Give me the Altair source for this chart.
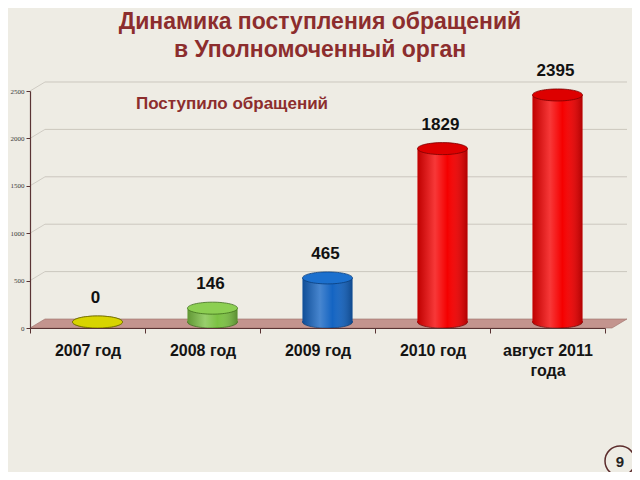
import altair as alt
import pandas as pd

# ---- data ----
categories = ["2007 год", "2008 год", "2009 год", "2010 год", "август 2011\nгода"]
values = [0, 146, 465, 1829, 2395]
body_colors = ["#C9C400", "#7CC243", "#1464C2", "#F50000", "#F50000"]
top_colors = ["#D8D400", "#8CCF52", "#1C70CE", "#DD0000", "#DD0000"]
edge_colors = ["#6E6A00", "#3F6E1C", "#0B3D7A", "#7A0000", "#7A0000"]
y_ticks = [0, 500, 1000, 1500, 2000, 2500]
grid_values = [500, 1000, 1500, 2000, 2500]
title_line1 = ["Динамика поступления обращений"]
title_line2 = ["в Уполномоченный орган"]
series_label = ["Поступило обращений"]
page_number = ["9"]

df = pd.DataFrame({"category": categories, "value": values,
                   "body": body_colors, "top": top_colors, "edge": edge_colors})
grid_df = pd.DataFrame({"value": grid_values})

BG = "#EEECE4"
DARK = "#5A3434"
TITLE_RED = "#8C2D2D"
FONT = "Liberation Sans"

x_axis = alt.Axis(title=None, labelAngle=0, labelFont=FONT, labelFontSize=16,
                  labelFontWeight="bold", labelColor="#141414", labelPadding=9,
                  labelLineHeight=20, labelExpr="split(datum.label, '\\n')",
                  domainColor=DARK, domainWidth=1.2, tickColor=DARK, tickSize=5,
                  tickBand="extent", zindex=1)
x_enc = alt.X("category:N", sort=categories,
              scale=alt.Scale(domain=categories, paddingInner=0, paddingOuter=0),
              axis=x_axis)
y_scale = alt.Scale(domain=[0, 2500], nice=False, zero=True)
y_axis = alt.Axis(title=None, values=y_ticks, format="d", labelFont="Liberation Serif",
                  labelFontSize=7, labelColor="#3a3a3a", labelPadding=2,
                  tickSize=4, tickColor=DARK, domainColor=DARK, domainWidth=1.2,
                  grid=False, zindex=1)
y_enc = alt.Y("value:Q", scale=y_scale, axis=y_axis)
y_zero = alt.YDatum(0, scale=y_scale, axis=y_axis, type="quantitative")

ELL = "M -1 0 A 1 0.24 0 1 0 1 0 A 1 0.24 0 1 0 -1 0 Z"
FLOOR = "M -1 0.0151 L 0.9497 0.0151 L 1 -0.0151 L -0.9497 -0.0151 Z"

shade = alt.Gradient(
    gradient="linear", x1=0, x2=1, y1=0, y2=0,
    stops=[alt.GradientStop(color="rgba(0,0,0,0.22)", offset=0),
           alt.GradientStop(color="rgba(255,255,255,0.22)", offset=0.35),
           alt.GradientStop(color="rgba(255,255,255,0.0)", offset=0.6),
           alt.GradientStop(color="rgba(0,0,0,0.28)", offset=1)])

base = alt.Chart(df)

grid = alt.Chart(grid_df).mark_rule(color="#CBC7BE", strokeWidth=1, yOffset=-9).encode(
    y=y_enc, x=alt.value(15), x2=alt.value(597))
conn = alt.Chart(grid_df).mark_rule(color="#D0CCC4", strokeWidth=1, y2Offset=-9).encode(
    y=y_enc, y2=alt.Y2("value:Q"), x=alt.value(0), x2=alt.value(15))

floor = alt.Chart(pd.DataFrame({"k": [0]})).mark_point(
    shape=FLOOR, size=597 ** 2, filled=True, fill="#C3948E", stroke="#9C6E69",
    strokeWidth=0.6, opacity=1).encode(x=alt.value(298.5), y=alt.value(232.5))

bottom = base.mark_point(shape=ELL, size=2500, filled=True, opacity=1,
                         xOffset=10, yOffset=-6, strokeWidth=0.8).encode(
    x=x_enc, y=y_zero, fill=alt.Fill("body:N", scale=None),
    stroke=alt.Stroke("edge:N", scale=None))
bottom_sh = base.mark_point(shape=ELL, size=2500, filled=True, opacity=1,
                            xOffset=10, yOffset=-6, fill=shade).encode(x=x_enc, y=y_zero)

bars = base.mark_bar(size=50, xOffset=10, yOffset=-6, y2Offset=-6).encode(
    x=x_enc, y=y_enc, fill=alt.Fill("body:N", scale=None))
bars_sh = base.mark_bar(size=50, xOffset=10, yOffset=-6, y2Offset=-6, fill=shade).encode(
    x=x_enc, y=y_enc)

tops = base.mark_point(shape=ELL, size=2500, filled=True, opacity=1,
                       xOffset=10, yOffset=-6, strokeWidth=0.8).encode(
    x=x_enc, y=y_enc, fill=alt.Fill("top:N", scale=None),
    stroke=alt.Stroke("edge:N", scale=None))

labels = base.mark_text(font=FONT, fontSize=17, fontWeight="bold", color="#111111",
                        dy=-26, xOffset=8, yOffset=-4, baseline="middle").encode(
    x=x_enc, y=y_enc, text=alt.Text("value:Q", format="d"))

def text_layer(lines, x, y, size, color):
    return alt.Chart(pd.DataFrame({"t": lines})).mark_text(
        font=FONT, fontSize=size, fontWeight="bold", color=color,
        align="center", baseline="middle").encode(
        x=alt.value(x), y=alt.value(y), text="t:N")

t1 = text_layer(title_line1, 290, -69, 23, TITLE_RED)
t2 = text_layer(title_line2, 290, -41, 23, TITLE_RED)
s1 = text_layer(series_label, 202, 13, 17, TITLE_RED)
pn = text_layer(page_number, 590, 371, 15, "#222222")
circ = alt.Chart(pd.DataFrame({"k": [0]})).mark_point(
    shape="circle", size=900, filled=False, stroke="#5B2B2B", strokeWidth=1.5,
    opacity=1).encode(x=alt.value(590), y=alt.value(370))

chart = alt.layer(grid, conn, floor, bottom, bottom_sh, bars, bars_sh, tops, labels,
                  t1, t2, s1, circ, pn).properties(
    width=575, height=237,
    autosize=alt.AutoSizeParams(type="none"),
    padding={"left": 22, "top": 83, "right": 27, "bottom": 144},
).configure(background=BG).configure_view(stroke=None)

chart.save("out.html", embed_options={"renderer": "svg", "actions": False})
